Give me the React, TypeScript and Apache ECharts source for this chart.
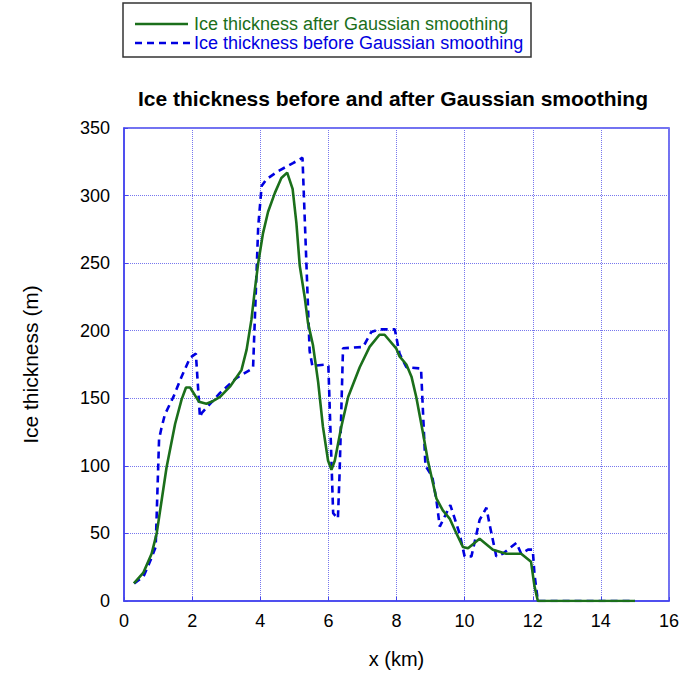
import React, { useEffect, useRef } from "react";
import * as echarts from "echarts";

const xTickLabels = ["0", "2", "4", "6", "8", "10", "12", "14", "16"];
const yTickLabels = ["0", "50", "100", "150", "200", "250", "300", "350"];

const smoothX = [0.29, 0.57, 0.81, 0.96, 1.25, 1.5, 1.69, 1.82, 1.94, 2.2, 2.42, 2.62, 2.82, 3.11, 3.45, 3.6, 3.74, 3.84, 3.94, 4.08, 4.23, 4.43, 4.62, 4.79, 4.95, 5.06, 5.16, 5.31, 5.4, 5.55, 5.7, 5.84, 5.99, 6.09, 6.19, 6.38, 6.58, 6.92, 7.21, 7.5, 7.65, 7.99, 8.09, 8.29, 8.44, 8.58, 8.78, 8.92, 9.17, 9.36, 9.56, 9.76, 9.95, 10.1, 10.44, 10.83, 11.22, 11.66, 11.95, 12.05, 12.15, 15.0];
const smoothY = [13, 21, 35, 50, 99, 131, 149, 158, 158, 147.5, 146, 148, 151, 158.6, 171, 186, 208, 230, 250, 272, 288, 302, 313, 317, 305, 280, 248, 224, 206, 189, 162, 129, 104, 97, 104, 129, 151, 173, 188, 197, 197, 187, 181, 175, 166, 151, 124, 104, 76, 67, 61, 50, 40, 39, 46, 38, 35, 35, 29, 11, 0, 0];

const rawX = [0.3, 0.57, 0.76, 0.93, 1.03, 1.1, 1.2, 1.45, 1.69, 1.94, 2.11, 2.23, 2.28, 2.82, 3.3, 3.7, 3.79, 3.94, 4.04, 4.18, 4.52, 4.96, 5.24, 5.45, 5.53, 5.94, 6.0, 6.14, 6.28, 6.33, 6.43, 7.02, 7.26, 7.5, 7.95, 8.09, 8.29, 8.72, 8.85, 9.05, 9.17, 9.27, 9.58, 9.85, 10.0, 10.2, 10.44, 10.64, 10.73, 10.93, 11.12, 11.52, 11.66, 11.86, 12.0, 12.05, 12.15, 15.0];
const rawY = [13, 18, 29, 40, 120, 128, 138, 151, 166, 180, 183, 136, 139, 154, 165, 171, 173, 277, 307, 312, 318, 324, 328, 185, 174, 175, 174, 65, 61, 95, 187, 188, 199, 201, 201, 183, 173, 172, 100, 92, 75, 55, 71, 50, 33, 33, 60, 69, 57, 33, 35, 43, 35, 38, 38, 20, 0, 0];

const seriesNames = [
  "Ice thickness after Gaussian smoothing",
  "Ice thickness before Gaussian smoothing",
];
const titleText = "Ice thickness before and after Gaussian smoothing";

const GREEN = "#1b6f1b";
const BLUE = "#0000e0";
const AXIS = "#4444ee";
const FONT = "Liberation Sans, Arial, sans-serif";

export default function App() {
  const ref = useRef<HTMLDivElement>(null);
  useEffect(() => {
    if (!ref.current) return;
    const chart = echarts.init(ref.current, undefined, { renderer: "svg" });
    const pairs = (xs: number[], ys: number[]) => xs.map((x, i) => [x, ys[i]]);
    chart.setOption({
      animation: false,
      backgroundColor: "#ffffff",
      title: {
        text: titleText,
        left: 388,
        top: 83,
        textAlign: "center",
        textStyle: { fontFamily: FONT, fontSize: 21, fontWeight: "bold", color: "#000" },
      },
      graphic: [
        {
          type: "rect",
          shape: { x: 123, y: 3, width: 408, height: 54 },
          style: { fill: "#fff", stroke: "#333", lineWidth: 1.5 },
        },
        {
          type: "line",
          shape: { x1: 135, y1: 24, x2: 188, y2: 24 },
          style: { stroke: GREEN, lineWidth: 2.6 },
        },
        {
          type: "line",
          shape: { x1: 135, y1: 43, x2: 190, y2: 43 },
          style: { stroke: BLUE, lineWidth: 2.6, lineDash: [7, 5] },
        },
        {
          type: "text",
          x: 194,
          y: 24,
          style: {
            text: seriesNames[0],
            fill: GREEN,
            font: `18px ${FONT}`,
            verticalAlign: "middle",
          },
        },
        {
          type: "text",
          x: 194,
          y: 43,
          style: {
            text: seriesNames[1],
            fill: BLUE,
            font: `18px ${FONT}`,
            verticalAlign: "middle",
          },
        },
      ],
      grid: {
        left: 124,
        right: 14,
        top: 128,
        bottom: 74,
        show: true,
        borderColor: AXIS,
        borderWidth: 1.5,
      },
      xAxis: {
        type: "value",
        min: 0,
        max: 16,
        interval: 2,
        name: "x (km)",
        nameLocation: "middle",
        nameGap: 48,
        nameTextStyle: { fontFamily: FONT, fontSize: 20, color: "#000" },
        axisLine: { lineStyle: { color: AXIS, width: 1.5 } },
        axisTick: { show: true, inside: true, length: 4, lineStyle: { color: AXIS } },
        axisLabel: {
          fontFamily: FONT,
          fontSize: 18,
          color: "#000",
          margin: 11,
          formatter: (v: number) => xTickLabels[Math.round(v / 2)] ?? String(v),
        },
        splitLine: { show: true, lineStyle: { color: "#7777ee", type: [1, 1], width: 1 } },
      },
      yAxis: {
        type: "value",
        min: 0,
        max: 350,
        interval: 50,
        name: "Ice thickness (m)",
        nameLocation: "middle",
        nameGap: 83,
        nameRotate: 90,
        nameTextStyle: { fontFamily: FONT, fontSize: 21, color: "#000" },
        axisLine: { show: true, lineStyle: { color: AXIS, width: 1.5 } },
        axisTick: { show: true, inside: true, length: 4, lineStyle: { color: AXIS } },
        axisLabel: {
          fontFamily: FONT,
          fontSize: 18,
          color: "#000",
          margin: 14,
          formatter: (v: number) => yTickLabels[Math.round(v / 50)] ?? String(v),
        },
        splitLine: { show: true, lineStyle: { color: "#7777ee", type: [1, 1], width: 1 } },
      },
      series: [
        {
          name: seriesNames[1],
          type: "line",
          data: pairs(rawX, rawY),
          showSymbol: false,
          symbol: "none",
          lineStyle: { color: BLUE, width: 2.6, type: [7, 5] },
          itemStyle: { color: BLUE },
          z: 2,
        },
        {
          name: seriesNames[0],
          type: "line",
          data: pairs(smoothX, smoothY),
          showSymbol: false,
          symbol: "none",
          lineStyle: { color: GREEN, width: 2.6 },
          itemStyle: { color: GREEN },
          z: 3,
        },
      ],
    });
    return () => chart.dispose();
  }, []);
  return (
    <div
      ref={ref}
      style={{ position: "absolute", left: 0, top: 0, width: 683, height: 675 }}
    />
  );
}
